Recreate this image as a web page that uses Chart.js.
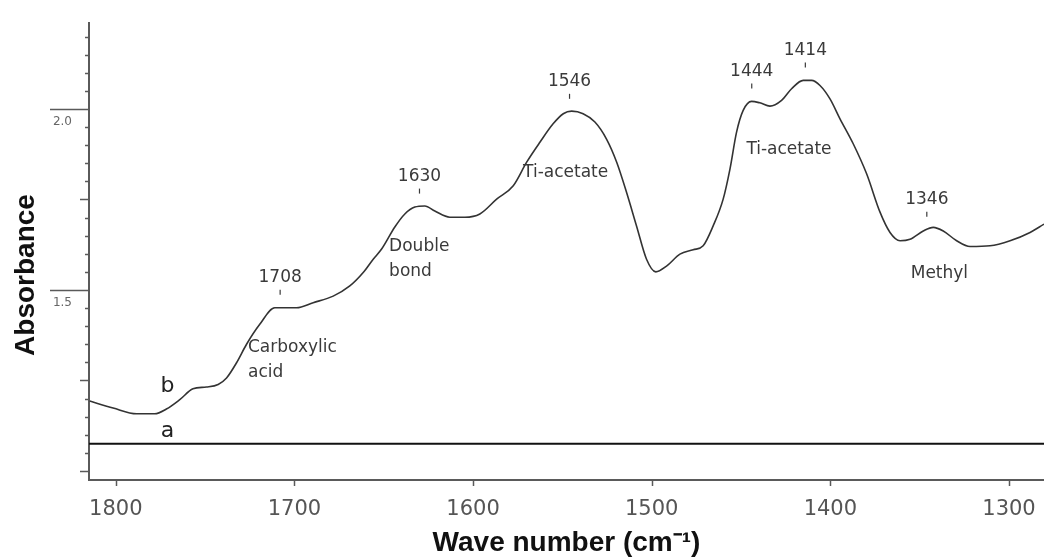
<!DOCTYPE html>
<html>
<head>
<meta charset="utf-8">
<script src="https://cdn.jsdelivr.net/npm/chart.js@4.4.0/dist/chart.umd.min.js"></script>
<style>
  html, body { margin: 0; padding: 0; background: #fff; }
  #wrap { width: 1044px; height: 560px; }
</style>
</head>
<body>
<div id="wrap"><canvas id="ftirChart"></canvas></div>
<script>
// spectrum b (wave number, absorbance)
const waveB = [1814.6, 1801.5, 1788.4, 1778.2, 1771.7, 1764.2, 1756.8, 1749.3, 1742.7, 1738.0,
  1732.4, 1726.8, 1719.4, 1711.0, 1698.8, 1689.5, 1678.3, 1669.0, 1661.5, 1655.9,
  1651.2, 1643.8, 1638.2, 1632.6, 1627.0, 1621.4, 1613.0, 1604.6, 1596.2, 1586.8,
  1577.5, 1570.0, 1562.6, 1555.2, 1549.5, 1544.8, 1538.4, 1531.8, 1525.3, 1519.6,
  1514.1, 1508.5, 1502.9, 1497.7, 1491.7, 1484.2, 1476.8, 1471.2, 1465.6, 1460.0,
  1456.2, 1452.5, 1448.8, 1444.1, 1439.5, 1433.8, 1427.3, 1421.7, 1415.2, 1410.5,
  1405.8, 1400.2, 1394.6, 1387.2, 1379.7, 1372.2, 1366.6, 1361.0, 1355.4, 1348.0,
  1342.4, 1336.8, 1329.3, 1321.8, 1310.6, 1299.4, 1288.2, 1280.4];
const absB = [1.193, 1.174, 1.158, 1.158, 1.171, 1.197, 1.227, 1.232, 1.239, 1.257,
  1.299, 1.350, 1.405, 1.451, 1.451, 1.465, 1.483, 1.511, 1.548, 1.585,
  1.613, 1.674, 1.710, 1.729, 1.732, 1.718, 1.701, 1.701, 1.710, 1.751,
  1.788, 1.853, 1.908, 1.959, 1.987, 1.994, 1.987, 1.964, 1.917, 1.853,
  1.770, 1.677, 1.585, 1.550, 1.566, 1.599, 1.611, 1.622, 1.677, 1.751,
  1.834, 1.936, 1.996, 2.021, 2.017, 2.008, 2.024, 2.056, 2.079, 2.079,
  2.065, 2.028, 1.973, 1.904, 1.821, 1.715, 1.659, 1.636, 1.640, 1.663,
  1.673, 1.663, 1.636, 1.620, 1.622, 1.636, 1.659, 1.682];

// spectrum a (flat)
const waveA = [1815, 1280.4];
const absA = [1.075, 1.075];

// axes
const xTicks = [1800, 1700, 1600, 1500, 1400, 1300];
const yTicks = [2.0, 1.5];
const yTickLabels = ['2.0', '1.5'];
const yTitle = 'Absorbance';

// marked peaks
const peakWaves = [1708, 1630, 1546, 1444, 1414, 1346];

// band notes
const noteTexts = [['Carboxylic', 'acid'], ['Double', 'bond'], ['Ti-acetate'], ['Ti-acetate'], ['Methyl']];
const noteWaves = [1726, 1647, 1572, 1447, 1355];
const noteAbs = [1.340, 1.620, 1.823, 1.887, 1.544];

// curve names
const curveNames = ['b', 'a'];
const curveNameWaves = [1771, 1771];
const curveNameAbs = [1.235, 1.11];

const axisColor = '#5a5a5a';
const textColor = '#3a3a3a';
const titleFont = "'Liberation Sans', Arial, sans-serif";
const labelFont = "'DejaVu Sans', sans-serif";

function absAt(w) {
  for (let i = 0; i < waveB.length - 1; i++) {
    const w0 = waveB[i], w1 = waveB[i + 1];
    if (w <= w0 && w >= w1) {
      const t = (w0 - w) / (w0 - w1);
      return absB[i] + t * (absB[i + 1] - absB[i]);
    }
  }
  return absB[absB.length - 1];
}

const marks = {
  id: 'marks',
  afterDatasetsDraw(chart) {
    const { ctx, scales: { x, y } } = chart;
    ctx.save();
    ctx.strokeStyle = axisColor;
    ctx.lineWidth = 1.5;

    // y tick marks every 0.05 (long at labelled values, medium every 0.25)
    for (let k = 20; k <= 44; k++) {
      const v = k * 0.05;
      const py = Math.round(y.getPixelForValue(v)) + 0.5;
      let len = 4;
      if (k === 30 || k === 40) len = 39;
      else if (k % 5 === 0) len = 9;
      ctx.beginPath();
      ctx.moveTo(x.left - len, py);
      ctx.lineTo(x.left, py);
      ctx.stroke();
    }

    // x tick marks
    xTicks.forEach(v => {
      const px = Math.round(x.getPixelForValue(v)) + 0.5;
      ctx.beginPath();
      ctx.moveTo(px, y.bottom);
      ctx.lineTo(px, y.bottom + 6);
      ctx.stroke();
    });

    // y axis title, centred a bit below the plot middle like the original
    ctx.save();
    ctx.fillStyle = '#111';
    ctx.font = 'bold 28px ' + titleFont;
    ctx.textAlign = 'center';
    ctx.textBaseline = 'middle';
    ctx.translate(26, 275);
    ctx.rotate(-Math.PI / 2);
    ctx.fillText(yTitle, 0, 0);
    ctx.restore();

    // peak markers
    ctx.fillStyle = textColor;
    ctx.font = '17px ' + labelFont;
    ctx.textAlign = 'center';
    ctx.textBaseline = 'middle';
    ctx.lineWidth = 1.2;
    ctx.strokeStyle = textColor;
    peakWaves.forEach(w => {
      const px = x.getPixelForValue(w);
      const py = y.getPixelForValue(absAt(w));
      ctx.beginPath();
      ctx.moveTo(px, py - 18);
      ctx.lineTo(px, py - 13);
      ctx.stroke();
      ctx.fillText(String(w), px, py - 30);
    });

    // band notes
    ctx.font = '17px ' + labelFont;
    ctx.textAlign = 'left';
    noteTexts.forEach((lines, i) => {
      const px = x.getPixelForValue(noteWaves[i]);
      const py = y.getPixelForValue(noteAbs[i]);
      lines.forEach((t, j) => ctx.fillText(t, px, py + j * 25));
    });

    // curve names
    ctx.font = '22px ' + labelFont;
    ctx.textAlign = 'center';
    ctx.fillStyle = '#222';
    curveNames.forEach((n, i) => {
      ctx.fillText(n, x.getPixelForValue(curveNameWaves[i]), y.getPixelForValue(curveNameAbs[i]));
    });
    ctx.restore();
  }
};

const ctx = document.getElementById('ftirChart').getContext('2d');
const ftirChart = new Chart(ctx, {
  type: 'line',
  data: {
    datasets: [{
      label: 'b',
      data: waveB.map((w, i) => ({ x: w, y: absB[i] })),
      borderColor: '#333',
      borderWidth: 1.6,
      pointRadius: 0,
      cubicInterpolationMode: 'monotone',
      fill: false
    }, {
      label: 'a',
      data: waveA.map((w, i) => ({ x: w, y: absA[i] })),
      borderColor: '#111',
      borderWidth: 2,
      pointRadius: 0,
      fill: false
    }]
  },
  options: {
    responsive: true,
    maintainAspectRatio: false,
    animation: false,
    layout: { padding: { top: 23, right: 0, left: 0, bottom: 0 } },
    plugins: {
      legend: { display: false },
      tooltip: { enabled: false }
    },
    scales: {
      x: {
        type: 'linear',
        reverse: true,
        min: 1280.4,
        max: 1815,
        afterBuildTicks: s => { s.ticks = xTicks.map(v => ({ value: v })); },
        afterFit: s => { s.height = 80; s.paddingLeft = 0; s.paddingRight = 0; },
        grid: { display: false, drawTicks: false },
        border: { display: true, color: axisColor, width: 2 },
        ticks: {
          autoSkip: false,
          maxRotation: 0,
          padding: 17,
          color: '#555',
          font: { family: labelFont, size: 21 },
          callback: v => String(v)
        },
        title: {
          display: true,
          text: 'Wave number (cm\u207B\u00B9)',
          color: '#111',
          font: { family: titleFont, size: 28, weight: 'bold' },
          padding: { top: 0, bottom: 0 }
        }
      },
      y: {
        type: 'linear',
        min: 0.975,
        max: 2.2376,
        afterBuildTicks: s => { s.ticks = yTicks.map(v => ({ value: v })); },
        afterFit: s => { s.width = 89; s.paddingTop = 0; s.paddingBottom = 0; },
        grid: { display: false, drawTicks: false },
        border: { display: true, color: axisColor, width: 2 },
        ticks: {
          padding: 17,
          labelOffset: 13,
          color: '#666',
          font: { family: labelFont, size: 12 },
          callback: v => yTickLabels[yTicks.indexOf(v)]
        },
        title: { display: false }
      }
    }
  },
  plugins: [marks]
});
</script>
</body>
</html>
